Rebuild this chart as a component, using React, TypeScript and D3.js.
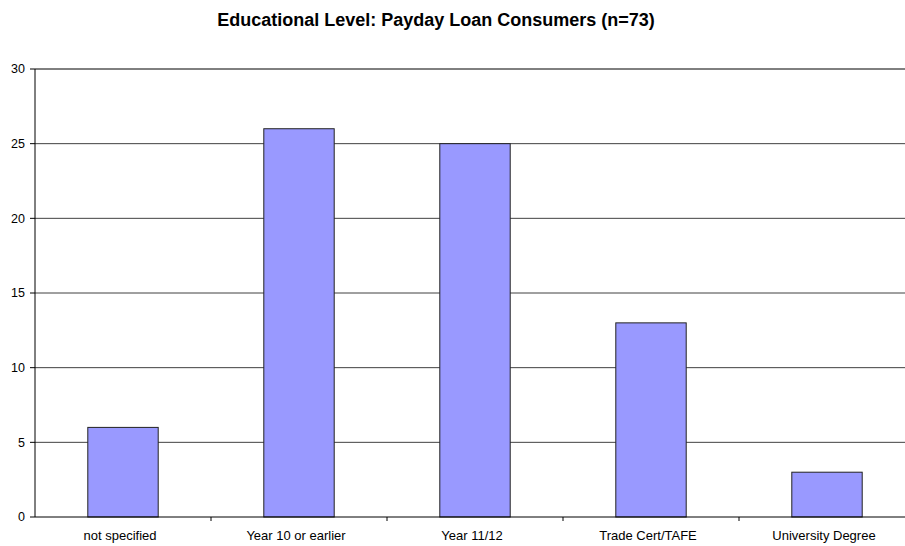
import React from "react";
import * as d3 from "d3";

const categories = ["not specified", "Year 10 or earlier", "Year 11/12", "Trade Cert/TAFE", "University Degree"];
const counts = [6, 26, 25, 13, 3];
const yTicks = [0, 5, 10, 15, 20, 25, 30];
const title = "Educational Level: Payday Loan Consumers (n=73)";

const W = 905;
const H = 546;
const left = 35;
const right = 915;
const top = 69;
const bottom = 517;

export default function App() {
  const x = d3.scaleBand<string>().domain(categories).range([left, right]).paddingInner(0.6).paddingOuter(0.3);
  const xb = d3.scaleBand<string>().domain(categories).range([left, right]);
  const y = d3.scaleLinear().domain([0, 30]).range([bottom, top]);
  const font = "Liberation Sans, Arial, sans-serif";
  return (
    <svg width={W} height={H} style={{ position: "absolute", left: 0, top: 0, background: "#fff" }} fontFamily={font}>
      <text x={436} y={26} textAnchor="middle" fontSize={18} fontWeight="bold" fill="#000">{title}</text>
      {yTicks.filter((t) => t > 0).map((t) => (
        <line key={"g" + t} x1={left} x2={right} y1={y(t)} y2={y(t)} stroke="#000" strokeOpacity={t === 30 ? 1 : 0.75} strokeWidth={1} />
      ))}
      {yTicks.map((t) => (
        <g key={"t" + t}>
          <line x1={left - 5} x2={left} y1={y(t)} y2={y(t)} stroke="#000" />
          <text x={25} y={y(t)} dy="0.35em" textAnchor="end" fontSize={12.5} fill="#000">{t}</text>
        </g>
      ))}
      {categories.map((c, i) => (
        <rect key={c} x={x(c)} y={y(counts[i])} width={x.bandwidth()} height={bottom - y(counts[i])} fill="#9999FF" stroke="#222" strokeWidth={1} />
      ))}
      <line x1={left} x2={left} y1={top} y2={bottom} stroke="#000" />
      <line x1={left} x2={right} y1={bottom} y2={bottom} stroke="#000" />
      {categories.map((c) => (
        <line key={"xt" + c} x1={xb(c)! + xb.bandwidth()} x2={xb(c)! + xb.bandwidth()} y1={bottom} y2={bottom + 4} stroke="#000" />
      ))}
      {categories.map((c) => (
        <text key={"xl" + c} x={xb(c)! + xb.bandwidth() / 2 - 3} y={540} textAnchor="middle" fontSize={13} fill="#000">{c}</text>
      ))}
    </svg>
  );
}
